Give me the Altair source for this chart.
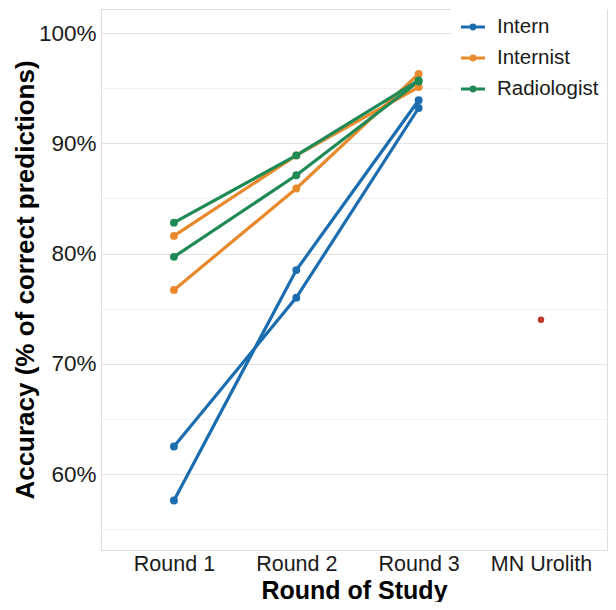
import altair as alt
import pandas as pd

rounds = ["Round 1", "Round 2", "Round 3"]
categories = ["Round 1", "Round 2", "Round 3", "MN Urolith"]
roles = ["Intern", "Internist", "Radiologist"]

intern_a = [0.625, 0.760, 0.932]
intern_b = [0.576, 0.785, 0.939]
internist_a = [0.816, 0.889, 0.951]
internist_b = [0.767, 0.859, 0.963]
radiologist_a = [0.828, 0.889, 0.957]
radiologist_b = [0.797, 0.871, 0.956]
urolith_value = [0.740]

series = [
    ("Intern", "Intern A", intern_a),
    ("Intern", "Intern B", intern_b),
    ("Internist", "Internist A", internist_a),
    ("Internist", "Internist B", internist_b),
    ("Radiologist", "Radiologist A", radiologist_a),
    ("Radiologist", "Radiologist B", radiologist_b),
]
rows = []
for role, pid, vals in series:
    for r, v in zip(rounds, vals):
        rows.append({"Role": role, "Participant": pid, "Round": r, "Accuracy": v})
df = pd.DataFrame(rows)
df_mn = pd.DataFrame({"Round": ["MN Urolith"], "Accuracy": urolith_value})

colors = ["#1b6db0", "#e8892b", "#1f8a56"]
font = "Liberation Sans"

x_enc = alt.X("Round:N", sort=categories,
              scale=alt.Scale(domain=categories, type="point", padding=0.568, align=0.525),
              axis=alt.Axis(title="Round of Study", labelAngle=0, labelFontSize=21.5,
                            labelColor="#1a1a1a", titleFontSize=25, titleFontWeight="bold",
                            titleColor="#000000", labelPadding=3, titleY=48,
                            titleBaseline="alphabetic",
                            gridColor="#ebebeb", domain=False, ticks=False))
y_scale = alt.Scale(domain=[0.5311, 1.0218], nice=False, zero=False)
y_axis = alt.Axis(title="Accuracy (% of correct predictions)",
                  values=[0.55, 0.60, 0.65, 0.70, 0.75, 0.80, 0.85, 0.90, 0.95, 1.00],
                  labelExpr="round(datum.value*100) % 10 == 0 ? format(datum.value, '.0%') : ''",
                  gridColor={"condition": {"test": "round(datum.value*100) % 10 == 0", "value": "#e3e3e3"},
                             "value": "#f1f1f1"},
                  labelFontSize=22.5, labelColor="#1a1a1a", titleFontSize=26,
                  titleFontWeight="bold", titleColor="#000000", labelPadding=5,
                  titleX=-68, titleBaseline="alphabetic", domain=False, ticks=False)

legend = alt.Legend(title=None, orient="none", legendX=350, legendY=-4,
                    fillColor="white", padding=8, rowPadding=6,
                    labelFontSize=20.5, labelColor="#1a1a1a", labelFont=font,
                    symbolType="M-1,0L1,0M-0.15,0A0.15,0.15,0,1,0,0.15,0A0.15,0.15,0,1,0,-0.15,0",
                    symbolSize=576, symbolStrokeWidth=3.2, labelOffset=10)

lines = alt.Chart(df).mark_line(strokeWidth=3.2).encode(
    x=x_enc,
    y=alt.Y("Accuracy:Q", scale=y_scale, axis=y_axis),
    color=alt.Color("Role:N", scale=alt.Scale(domain=roles, range=colors), legend=legend),
    detail="Participant:N",
)
points = alt.Chart(df).mark_circle(size=62, opacity=1).encode(
    x=x_enc,
    y=alt.Y("Accuracy:Q", scale=y_scale),
    color=alt.Color("Role:N", scale=alt.Scale(domain=roles, range=colors), legend=None),
)
mn = alt.Chart(df_mn).mark_circle(size=42, opacity=1, color="#c0392b").encode(
    x=x_enc,
    y=alt.Y("Accuracy:Q", scale=y_scale),
)

chart = alt.layer(lines, points, mn).properties(
    width=506, height=541,
    autosize=alt.AutoSizeParams(type="none"),
    padding={"left": 93, "top": 1, "right": 1, "bottom": 52},
).configure_view(
    stroke="#b3b3b3", strokeWidth=2
).configure(font=font, background="white")

chart.save("out.html", embed_options={"renderer": "svg", "actions": False})
